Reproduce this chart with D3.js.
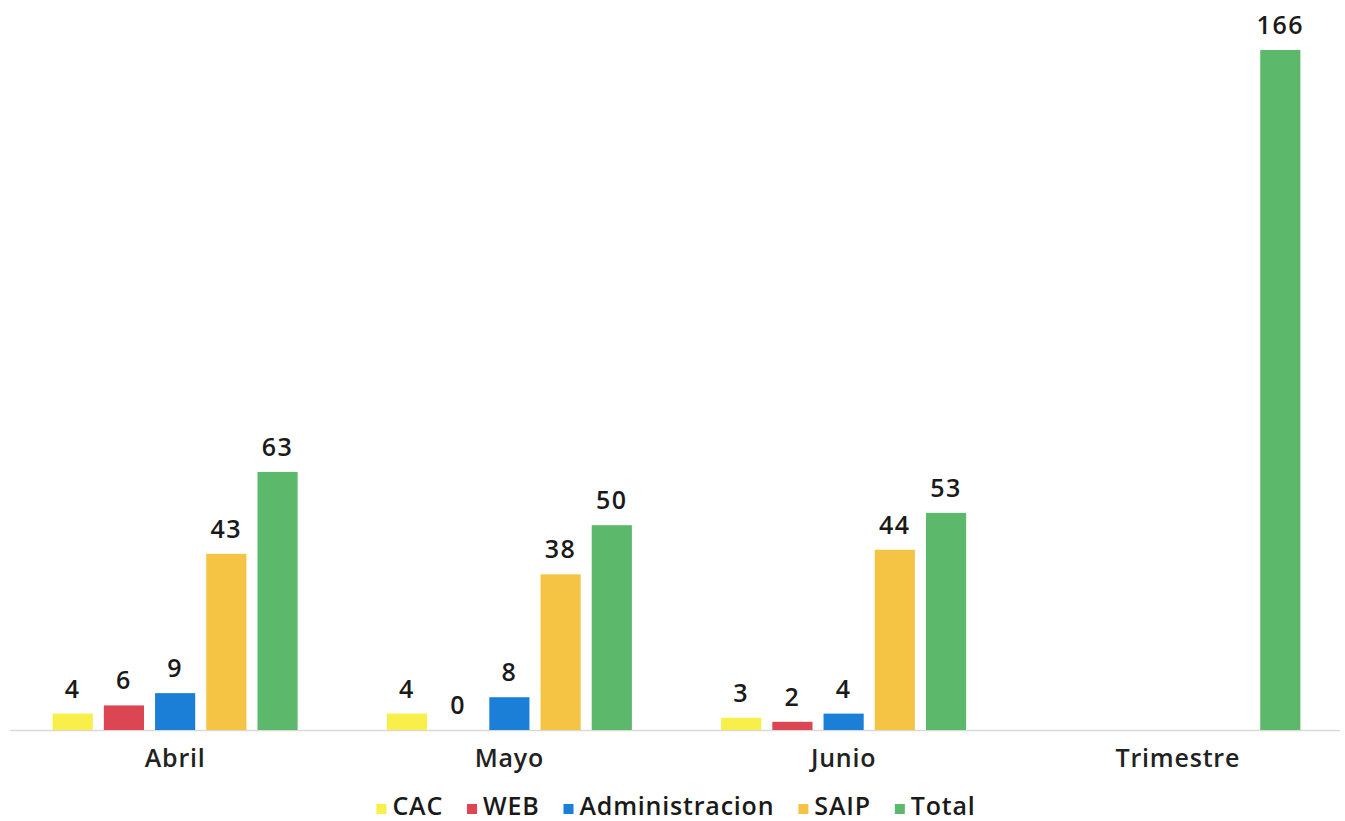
<!DOCTYPE html>
<html>
<head>
<meta charset="utf-8">
<script src="https://cdn.jsdelivr.net/npm/d3@7"></script>
<style>
  body { margin: 0; background: #fff; }
  svg { font-family: "Open Sans", sans-serif; }
</style>
</head>
<body>
<svg width="1345" height="821"></svg>
<script>
const categories = ["Abril", "Mayo", "Junio", "Trimestre"];
const series = ["CAC", "WEB", "Administracion", "SAIP", "Total"];
const cac = [4, 4, 3, null];
const web = [6, 0, 2, null];
const admin = [9, 8, 4, null];
const saip = [43, 38, 44, null];
const total = [63, 50, 53, 166];
const colors = ["#f8ef4a", "#dc4552", "#1b7fd8", "#f6c445", "#5cb86b"];

const svg = d3.select("svg");
const values = [cac, web, admin, saip, total];

const x0 = d3.scaleBand()
  .domain(categories)
  .range([8, 1345])
  .paddingInner(0.267)
  .paddingOuter(0.1335);

const x1 = d3.scaleBand()
  .domain(series)
  .range([0, x0.bandwidth()])
  .paddingInner(0.216);

const y = d3.scaleLinear()
  .domain([0, 166])
  .range([730, 50]);

const color = d3.scaleOrdinal().domain(series).range(colors);

// baseline
svg.append("line")
  .attr("x1", 10).attr("x2", 1340)
  .attr("y1", y(0) + 0.5).attr("y2", y(0) + 0.5)
  .attr("stroke", "#d9d9d9")
  .attr("stroke-width", 1.5);

const rows = categories.map((c, i) => ({
  cat: c,
  items: series.map((s, j) => ({ key: s, value: values[j][i] })).filter(d => d.value != null)
}));

const groups = svg.append("g").selectAll("g")
  .data(rows)
  .enter().append("g")
  .attr("transform", d => `translate(${x0(d.cat)},0)`);

groups.selectAll("rect")
  .data(d => d.items)
  .enter().append("rect")
  .attr("x", d => x1(d.key))
  .attr("y", d => y(d.value))
  .attr("width", x1.bandwidth())
  .attr("height", d => y(0) - y(d.value))
  .attr("fill", d => color(d.key));

groups.selectAll("text")
  .data(d => d.items)
  .enter().append("text")
  .attr("x", d => x1(d.key) + x1.bandwidth() / 2)
  .attr("y", d => y(d.value) - 16)
  .attr("text-anchor", "middle")
  .attr("font-size", 25)
  .attr("font-weight", 600)
  .attr("letter-spacing", 1.5)
  .attr("fill", "#1a1a1a")
  .text(d => d.value);

// category labels
svg.append("g").selectAll("text")
  .data(categories)
  .enter().append("text")
  .attr("x", d => x0(d) + x0.bandwidth() / 2)
  .attr("y", 767)
  .attr("text-anchor", "middle")
  .attr("font-size", 25)
  .attr("font-weight", 600)
  .attr("letter-spacing", 0.8)
  .attr("fill", "#222")
  .text(d => d);

// legend
const legend = svg.append("g").attr("class", "legend");
const items = legend.selectAll("g")
  .data(series)
  .enter().append("g");

items.append("rect")
  .attr("width", 10)
  .attr("height", 10)
  .attr("y", -11)
  .attr("fill", d => color(d));

items.append("text")
  .attr("x", 16)
  .attr("y", 0)
  .attr("font-size", 25)
  .attr("font-weight", 600)
  .attr("letter-spacing", 0.8)
  .attr("fill", "#1a1a1a")
  .text(d => d);

let off = 0;
items.each(function() {
  const w = this.querySelector("text").getComputedTextLength();
  d3.select(this).attr("transform", `translate(${off},0)`);
  off += 16 + w + 24;
});
off -= 24;
legend.attr("transform", `translate(${676 - off / 2},815)`);
</script>
</body>
</html>
